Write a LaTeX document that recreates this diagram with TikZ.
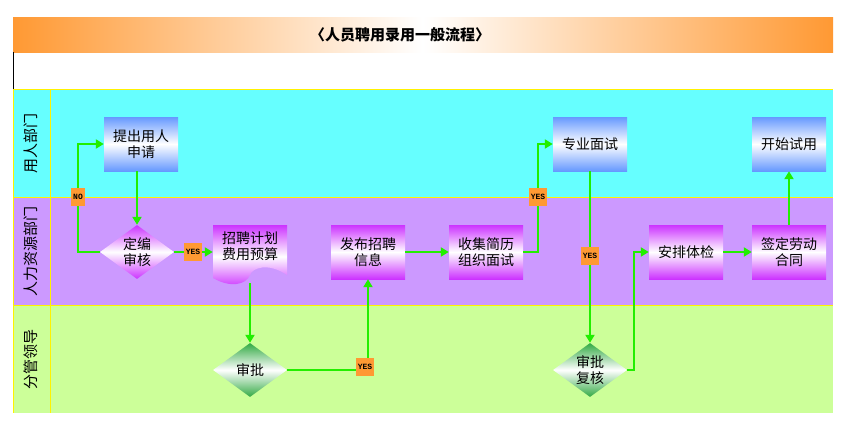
\documentclass[tikz,border=0pt]{standalone}
\usepackage{fontspec}
\setmainfont{Noto Sans CJK SC}
\newfontfamily\monof{Liberation Mono}
\usetikzlibrary{shapes.geometric,arrows.meta}
\definecolor{cy}{HTML}{66FFFF}
\definecolor{pu}{HTML}{CC99FF}
\definecolor{gr}{HTML}{CCFF99}
\definecolor{og}{HTML}{FF9933}
\definecolor{bl}{HTML}{6699FF}
\definecolor{mg}{HTML}{CC33FF}
\definecolor{dg}{HTML}{33AA44}
\definecolor{ln}{HTML}{22EE00}
\begin{document}
\begin{tikzpicture}[x=1pt,y=-1pt,
  box/.style={rectangle,minimum width=74pt,minimum height=54pt,inner sep=1pt,align=center,font=\fontsize{14}{16}\selectfont},
  bbox/.style={box,top color=bl,bottom color=bl,middle color=white},
  pbox/.style={box,top color=mg,bottom color=mg,middle color=white},
  dia/.style={diamond,aspect=1.4,minimum width=74pt,minimum height=54pt,inner sep=0pt,align=center,font=\fontsize{14}{16}\selectfont},
  lab/.style={fill=og,inner sep=2pt,minimum height=18pt,font=\monof\bfseries\fontsize{8}{9}\selectfont},
  arr/.style={draw=ln,line width=2pt,-{Triangle[length=8pt,width=9pt]}},
  lane/.style={rotate=90,font=\fontsize{15}{17}\selectfont}]
\useasboundingbox (0,0) rectangle (845,434);
\fill[white] (0,0) rectangle (845,434);
% title
\path[left color=og,right color=og,middle color=white] (13,17) rectangle (833,52);
\node[font=\fontsize{15}{17}\selectfont\bfseries] (title) at (400,35) {〈人员聘用录用一般流程〉};
\draw[black] (13,52) -- (13,89);
% lanes
\fill[cy] (13,89) rectangle (833,197);
\fill[pu] (13,197) rectangle (833,305);
\fill[gr] (13,305) rectangle (833,413);
\draw[yellow] (13,89) -- (833,89) (13,197) -- (833,197) (13,305) -- (833,305) (50,89) -- (50,413) (13,89) -- (13,413);
\node[lane] (l1) at (31,143) {用人部门};
\node[lane] (l2) at (31,251) {人力资源部门};
\node[lane] (l3) at (31,359) {分管领导};
% nodes
\node[bbox] (a) at (141,144) {提出用人\\申请};
\node[dia,top color=mg,bottom color=mg,middle color=white] (b) at (137,252) {定编\\审核};
\path[top color=mg,bottom color=mg,middle color=white] (213,225) -- (287,225) -- (287,275) .. controls (268,262) and (252,268) .. (250,275) .. controls (246,285) and (230,288) .. (213,278) -- cycle;
\node[box,minimum height=44pt] (c) at (250,246) {招聘计划\\费用预算};
\node[pbox] (d) at (368,252) {发布招聘\\信息};
\node[pbox] (e) at (486,252) {收集简历\\组织面试};
\node[bbox] (f) at (590,144) {专业面试};
\node[pbox] (g) at (686,252) {安排体检};
\node[pbox] (h) at (789,252) {签定劳动\\合同};
\node[bbox] (i) at (789,144) {开始试用};
\node[dia,top color=dg,bottom color=dg,middle color=white] (j) at (250,370) {审批};
\node[dia,top color=dg,bottom color=dg,middle color=white] (k) at (590,370) {审批\\复核};
% connectors
\coordinate (c1) at (78,252); \coordinate (c2) at (78,144);
\draw[arr] (b.west) -- (c1) -- (c2) -- (a.west);
\node[lab] (n1) at (78,197) {NO};
\draw[arr] (a.south -| b.north) -- (b.north);
\draw[arr] (b.east) -- (c.west |- b.east);
\node[lab] (y1) at (193,252) {YES};
\draw[arr] (250,283) -- (j.north);
\coordinate (c3) at (368,370);
\draw[arr] (j.east) -- (c3) -- (d.south);
\node[lab] (y2) at (365,367) {YES};
\draw[arr] (d.east) -- (e.west);
\coordinate (c4) at (538,252); \coordinate (c5) at (538,144);
\draw[arr] (e.east) -- (c4) -- (c5) -- (f.west);
\node[lab] (y3) at (538,197) {YES};
\draw[arr] (f.south) -- (k.north);
\node[lab] (y4) at (590,256) {YES};
\coordinate (c6) at (634,370); \coordinate (c7) at (634,252);
\draw[arr] (k.east) -- (c6) -- (c7) -- (g.west);
\draw[arr] (g.east) -- (h.west);
\draw[arr] (h.north) -- (i.south);
\end{tikzpicture}
\end{document}
